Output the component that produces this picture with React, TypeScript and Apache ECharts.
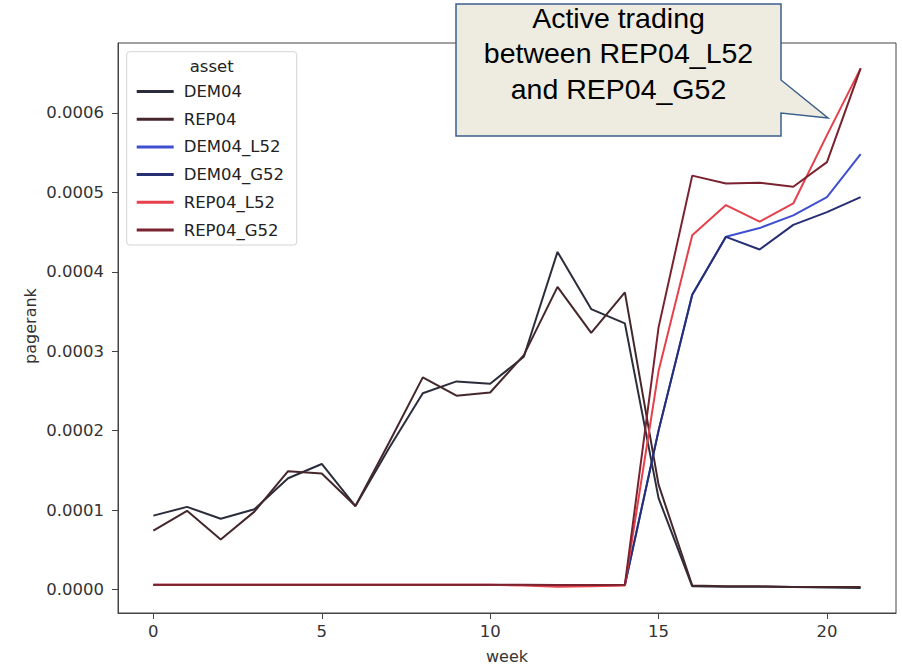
import React, { useEffect, useRef } from "react";
import * as echarts from "echarts";

const weeks = [0, 1, 2, 3, 4, 5, 6, 7, 8, 9, 10, 11, 12, 13, 14, 15, 16, 17, 18, 19, 20, 21];

const seriesNames = ["DEM04", "REP04", "DEM04_L52", "DEM04_G52", "REP04_L52", "REP04_G52"];
const seriesColors = ["#2b2d3c", "#45272b", "#3f4fd0", "#262f74", "#e6404a", "#7a2230"];

const dem04 = [0.000093, 0.000104, 0.000089, 0.000101, 0.00014, 0.000158, 0.000105, 0.000178, 0.000247, 0.000262, 0.000259, 0.000293, 0.000425, 0.000353, 0.000335, 0.000115, 0.000004, 0.0000035, 0.0000035, 0.000003, 0.0000025, 0.000002];
const rep04 = [0.000074, 0.000099, 0.000063, 0.000098, 0.000149, 0.000146, 0.000105, 0.000185, 0.000267, 0.000244, 0.000248, 0.000295, 0.000381, 0.000323, 0.000374, 0.000132, 0.000005, 0.000004, 0.000004, 0.000003, 0.000003, 0.000003];
const dem04L52 = [0.0000058, 0.0000058, 0.0000058, 0.0000058, 0.0000058, 0.0000058, 0.0000058, 0.0000058, 0.0000058, 0.0000058, 0.0000058, 0.0000055, 0.0000052, 0.0000053, 0.0000055, 0.0002, 0.000371, 0.000444, 0.000455, 0.000471, 0.000494, 0.000548];
const dem04G52 = [0.0000058, 0.0000058, 0.0000058, 0.0000058, 0.0000058, 0.0000058, 0.0000058, 0.0000058, 0.0000058, 0.0000058, 0.0000058, 0.0000055, 0.0000052, 0.0000053, 0.0000055, 0.0002, 0.000371, 0.000444, 0.000428, 0.000459, 0.000475, 0.000494];
const rep04L52 = [0.000006, 0.000006, 0.000006, 0.000006, 0.000006, 0.000006, 0.000006, 0.000006, 0.000006, 0.000006, 0.000006, 0.000005, 0.0000035, 0.000004, 0.000005, 0.000275, 0.000446, 0.000484, 0.000463, 0.000486, 0.000572, 0.000656];
const rep04G52 = [0.000006, 0.000006, 0.000006, 0.000006, 0.000006, 0.000006, 0.000006, 0.000006, 0.000006, 0.000006, 0.000006, 0.000006, 0.0000058, 0.0000058, 0.000006, 0.00033, 0.000521, 0.000511, 0.000512, 0.000507, 0.000538, 0.000656];
const seriesValues = [dem04, rep04, dem04L52, dem04G52, rep04L52, rep04G52];

const xTicks = [0, 5, 10, 15, 20];
const yTicks = [0, 0.0001, 0.0002, 0.0003, 0.0004, 0.0005, 0.0006];

const calloutText = "Active trading\nbetween REP04_L52\nand REP04_G52";
const legendTitle = "asset";
const xName = "week";
const yName = "pagerank";

const FONT = "DejaVu Sans";

export default function App() {
  const ref = useRef<HTMLDivElement>(null);
  useEffect(() => {
    if (!ref.current) return;
    const chart = echarts.init(ref.current, null, { renderer: "svg" });
    const option: any = {
      animation: false,
      backgroundColor: "#ffffff",
      grid: {
        left: 118,
        right: 6,
        top: 43,
        bottom: 54,
        show: true,
        borderColor: "#444",
        borderWidth: 1,
        backgroundColor: "transparent",
      },
      xAxis: {
        type: "value",
        min: -1.05,
        max: 22.05,
        axisLine: { show: true, onZero: false, lineStyle: { color: "#444", width: 1 } },
        axisTick: { show: true, length: 6, customValues: xTicks, lineStyle: { color: "#444" } },
        axisLabel: {
          customValues: xTicks,
          fontSize: 16.5,
          fontFamily: FONT,
          color: "#333",
          margin: 10,
        },
        splitLine: { show: false },
      },
      yAxis: {
        type: "value",
        min: -0.0000296,
        max: 0.000688,
        axisLine: { show: true, onZero: false, lineStyle: { color: "#444", width: 1 } },
        axisTick: { show: true, length: 6, customValues: yTicks, lineStyle: { color: "#444" } },
        axisLabel: {
          customValues: yTicks,
          fontSize: 16.5,
          fontFamily: FONT,
          color: "#333",
          margin: 14,
          formatter: (v: number) => v.toFixed(4),
        },
        splitLine: { show: false },
      },
      legend: {
        orient: "vertical",
        left: 131.7,
        top: 76.5,
        icon: "rect",
        itemWidth: 37,
        itemHeight: 3,
        itemGap: 7.7,
        z: 20,
        data: seriesNames,
        textStyle: {
          fontSize: 16.5,
          fontFamily: FONT,
          color: "#222",
          lineHeight: 20,
          padding: [0, 0, 0, 5],
        },
      },
      series: seriesNames.map((name, i) => ({
        name,
        type: "line",
        showSymbol: false,
        symbol: "none",
        data: weeks.map((w, j) => [w, seriesValues[i][j]]),
        lineStyle: { color: seriesColors[i], width: 2 },
        itemStyle: { color: seriesColors[i] },
        z: 2 + i,
      })),
      graphic: [
        {
          type: "rect",
          z: 15,
          shape: { x: 126.7, y: 51.7, width: 170, height: 193.3, r: 3 },
          style: { fill: "rgba(255,255,255,0.8)", stroke: "#d4d4d4", lineWidth: 1 },
        },
        {
          type: "text",
          z: 16,
          x: 211.7,
          y: 66,
          style: {
            text: legendTitle,
            fontSize: 16.5,
            fontFamily: FONT,
            fill: "#222",
            textAlign: "center",
            textVerticalAlign: "middle",
          },
        },
        {
          type: "text",
          x: 30,
          y: 326,
          rotation: Math.PI / 2,
          style: {
            text: yName,
            fontSize: 16,
            fontFamily: FONT,
            fill: "#333",
            textAlign: "center",
            textVerticalAlign: "middle",
          },
        },
        {
          type: "text",
          x: 507,
          y: 656,
          style: {
            text: xName,
            fontSize: 16,
            fontFamily: FONT,
            fill: "#333",
            textAlign: "center",
            textVerticalAlign: "middle",
          },
        },
        {
          type: "polygon",
          z: 100,
          shape: {
            points: [
              [456, 4],
              [781, 4],
              [781, 80],
              [828, 118],
              [781, 113],
              [781, 136],
              [456, 136],
            ],
          },
          style: { fill: "#eeece1", stroke: "#3b5f8c", lineWidth: 1.5 },
        },
        {
          type: "text",
          z: 101,
          x: 618.5,
          y: 53,
          style: {
            text: calloutText,
            fontSize: 28.5,
            lineHeight: 35.5,
            fontFamily: "Liberation Sans",
            fill: "#000",
            textAlign: "center",
            textVerticalAlign: "middle",
          },
        },
      ],
    };
    chart.setOption(option);
    return () => chart.dispose();
  }, []);
  return (
    <div
      ref={ref}
      style={{ position: "absolute", left: 0, top: 0, width: 902, height: 667 }}
    />
  );
}
